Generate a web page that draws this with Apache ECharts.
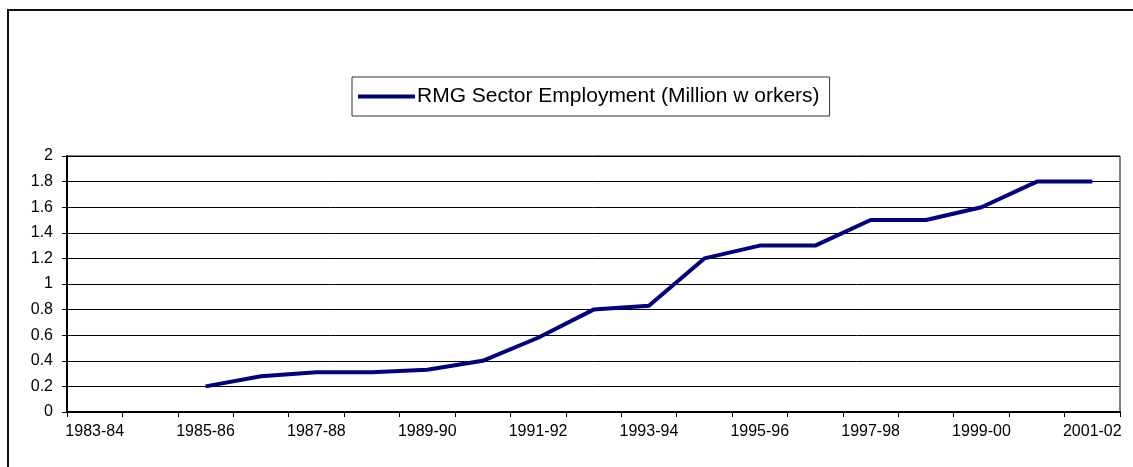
<!DOCTYPE html>
<html>
<head>
<meta charset="utf-8">
<script src="https://cdn.jsdelivr.net/npm/echarts@6/dist/echarts.min.js"></script>
<style>
html,body{margin:0;padding:0;background:#fff;}
#chart{width:1133px;height:467px;}
</style>
</head>
<body>
<div id="chart"></div>
<script>
const categories = ["1983-84","1984-85","1985-86","1986-87","1987-88","1988-89","1989-90","1990-91","1991-92","1992-93","1993-94","1994-95","1995-96","1996-97","1997-98","1998-99","1999-00","2000-01","2001-02"];
const employment = [null,null,0.2,0.28,0.31,0.31,0.33,0.4,0.58,0.8,0.83,1.2,1.3,1.3,1.5,1.5,1.6,1.8,1.8];
const seriesName = "RMG Sector Employment (Million w orkers)";

const FONT = '"Liberation Sans", Arial, sans-serif';
const chart = echarts.init(document.getElementById('chart'), null, {renderer:'canvas'});
chart.setOption({
  animation: false,
  backgroundColor: '#fff',
  graphic: [{
    type: 'rect',
    shape: {x: 8, y: 10, width: 1300, height: 700},
    style: {fill: 'none', stroke: '#111', lineWidth: 2},
    silent: true
  }],
  legend: {
    left: 352, top: 77,
    padding: [9, 10, 9, 6],
    borderColor: '#333', borderWidth: 1,
    icon: 'rect',
    itemWidth: 57, itemHeight: 4,
    itemGap: 0,
    textStyle: {fontFamily: FONT, fontSize: 21, color: '#000', padding: [0,0,0,-3]},
    data: [seriesName]
  },
  grid: {
    left: 67, right: 13, top: 156, bottom: 55,
    show: true, borderColor: '#000', borderWidth: 1,
    containLabel: false
  },
  xAxis: {
    type: 'category',
    data: categories,
    boundaryGap: true,
    axisLine: {lineStyle: {color: '#000', width: 2}},
    axisTick: {show: true, interval: 0, length: 5, lineStyle: {color: '#000', width: 1}},
    axisLabel: {interval: 1, margin: 12, fontFamily: FONT, fontSize: 16, color: '#000'},
    splitLine: {show: false}
  },
  yAxis: {
    type: 'value',
    min: 0, max: 2, interval: 0.2,
    axisLine: {show: true, lineStyle: {color: '#000', width: 2}},
    axisTick: {show: true, length: 5, lineStyle: {color: '#000', width: 1}},
    axisLabel: {margin: 14, fontFamily: FONT, fontSize: 16, color: '#000'},
    splitLine: {show: true, lineStyle: {color: '#000', width: 1}}
  },
  series: [{
    name: seriesName,
    type: 'line',
    data: employment,
    showSymbol: false,
    symbol: 'none',
    connectNulls: false,
    lineStyle: {color: '#000080', width: 4},
    itemStyle: {color: '#000080'}
  }]
});
</script>
</body>
</html>
